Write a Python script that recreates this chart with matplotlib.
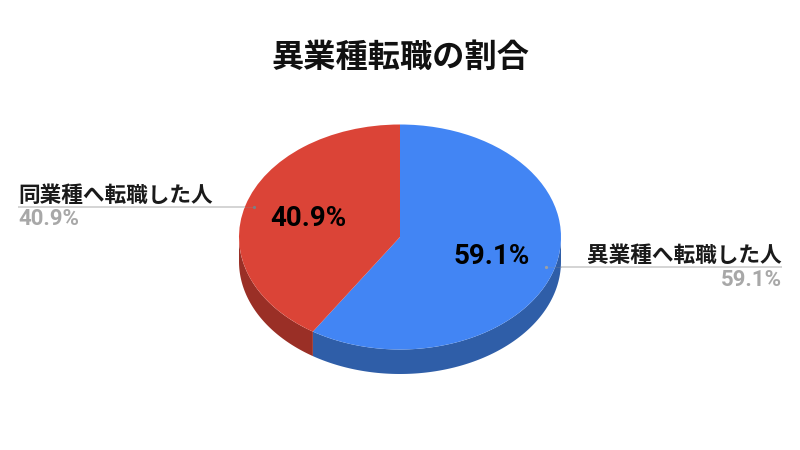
import numpy as np
import matplotlib
matplotlib.use("Agg")
import matplotlib.pyplot as plt

plt.rcParams["font.family"] = ["Noto Sans CJK JP", "DejaVu Sans"]

title = "異業種転職の割合"
labels = ["異業種へ転職した人", "同業種へ転職した人"]
values = [59.1, 40.9]
value_labels = ["59.1%", "40.9%"]
top_colors = ["#4285f4", "#db4437"]
side_colors = ["#2f5ea8", "#9a2f26"]

# pie centre and radii in pixels
cx, cy, rx, ry = 400, 237, 161, 112.5
depth = 24.5 / ry

fig = plt.figure(figsize=(8, 4.5), dpi=100)
ax = fig.add_axes([0, 0, 1, 1])
ax.pie(values, colors=top_colors, startangle=90, counterclock=False, radius=1,
       wedgeprops={"linewidth": 0, "zorder": 3})
ax.set_aspect("auto")
ax.set_xlim(-cx / rx, (800 - cx) / rx)
ax.set_ylim((cy - 450) / ry, cy / ry)


def px(x, y):
    return (x - cx) / rx, (cy - y) / ry


# side wall of the pie, lower half only
split = np.pi / 2 - 2 * np.pi * values[0] / sum(values)
ranges = [(0, split), (split, -np.pi)]
for (a0, a1), c in zip(ranges, side_colors):
    t = np.linspace(a0, a1, 120)
    xs = np.concatenate([np.cos(t), np.cos(t[::-1])])
    ys = np.concatenate([np.sin(t), np.sin(t[::-1]) - depth])
    ax.fill(xs, ys, color=c, lw=0, zorder=2)

# leader lines, nearly invisible over the slices
for (x0, x1, y, xi) in [(561, 782, 266.7, 546), (18, 245, 206.5, 254)]:
    (a, b), (c, d) = px(x0, y), px(x1, y)
    ax.plot([a, c], [b, d], color="#c9c9c9", lw=1.1, zorder=4, solid_capstyle="butt")
    (e, f), (g, h) = px(xi, y), px(x0 if xi > 400 else x1, y)
    ax.plot([e, g], [f, h], color="#8a8f96", lw=0.5, alpha=0.35, zorder=4)
ax.plot(*px(546, 266.7), "o", ms=1.3, color="#9aa0a6", zorder=5)
ax.plot(*px(254, 206.5), "o", ms=1.3, color="#7a7f85", zorder=5)

ax.text(*px(400, 57), title, fontsize=23.2, fontweight="bold", color="#111111",
        ha="center", va="center")

# outside labels
ax.text(*px(782, 255), labels[0], fontsize=15.6, fontweight="bold", color="#1a1a1a",
        ha="right", va="center")
ax.text(*px(18.5, 195), labels[1], fontsize=15.6, fontweight="bold", color="#1a1a1a",
        ha="left", va="center")
ax.text(*px(782, 280), value_labels[0], fontsize=16, fontweight="bold", color="#a8a8a8",
        family=["Roboto", "DejaVu Sans"], ha="right", va="center")
ax.text(*px(18, 219), value_labels[1], fontsize=16, fontweight="bold", color="#a8a8a8",
        family=["Roboto", "DejaVu Sans"], ha="left", va="center")

# labels on the slices
ax.text(*px(491.5, 256.5), value_labels[0], fontsize=20, fontweight="bold", color="black",
        family=["Roboto", "DejaVu Sans"], ha="center", va="center", zorder=6)
ax.text(*px(308.5, 218.5), value_labels[1], fontsize=20, fontweight="bold", color="black",
        family=["Roboto", "DejaVu Sans"], ha="center", va="center", zorder=6)

fig.savefig("out.png", dpi=100)
plt.close(fig)
